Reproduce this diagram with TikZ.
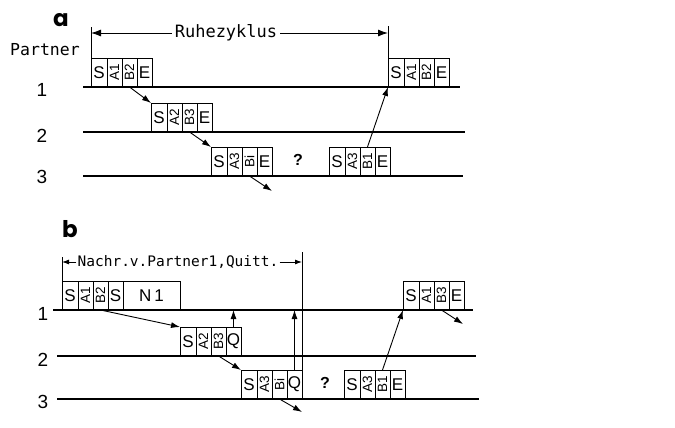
\documentclass[tikz,border=0pt]{standalone}
\usepackage{fontspec}
\setsansfont{Liberation Sans}
\setmonofont{DejaVu Sans Mono}
\newfontfamily\panelfont{Poppins}
\usetikzlibrary{arrows.meta,positioning}

% rotated address label inside a frame cell
\newcommand{\rot}[1]{\rotatebox{90}{\fontsize{13.5}{13.5}\selectfont #1}}

\begin{document}
\begin{tikzpicture}[
    x=1pt, y=-1pt,
    cell/.style={draw, line width=0.9pt, minimum width=15pt, minimum height=29pt, inner sep=0pt, outer sep=0pt, anchor=south west, font=\sffamily\fontsize{17}{17}\selectfont},
    scell/.style={cell, minimum width=16pt},
    tline/.style={line width=1.3pt},
    tick/.style={line width=0.9pt},
    conn/.style={-{Latex[length=9pt,width=6pt]}, line width=0.9pt},
    dimbig/.style={-{Latex[length=10pt,width=7pt]}, line width=0.9pt},
    dimsmall/.style={-{Latex[length=7pt,width=5pt]}, line width=0.9pt},
    rowlab/.style={font=\sffamily\fontsize{19}{19}\selectfont},
    monolab/.style={font=\ttfamily\fontsize{17}{17}\selectfont, inner sep=3pt},
    qmark/.style={font=\sffamily\bfseries\fontsize{16}{16}\selectfont},
    panel/.style={font=\panelfont\bfseries\fontsize{23}{23}\selectfont},
]
    \useasboundingbox (0,0) rectangle (675,428);

    % ---------- a ----------
    \node[panel] (pa) at (61,20) {a};
    \node[monolab, font=\ttfamily\fontsize{16.5}{16.5}\selectfont] (partner) at (45,50) {Partner};
    \node[rowlab] (ra1) at (42,90) {1};
    \node[rowlab] (ra2) at (42,136) {2};
    \node[rowlab] (ra3) at (42,177) {3};
    \draw[tline] (83,87) -- (460,87);
    \draw[tline] (83,132) -- (465,132);
    \draw[tline] (83,176) -- (463,176);

    % partner 1
    \node[scell] (a1S) at (91,87) {S};
    \node[cell, right=0pt of a1S] (a1A) {\rot{A1}};
    \node[cell, right=0pt of a1A] (a1B) {\rot{B2}};
    \node[cell, right=0pt of a1B] (a1E) {E};
    % partner 2
    \node[scell] (a2S) at (151,132) {S};
    \node[cell, right=0pt of a2S] (a2A) {\rot{A2}};
    \node[cell, right=0pt of a2A] (a2B) {\rot{B3}};
    \node[cell, right=0pt of a2B] (a2E) {E};
    % partner 3
    \node[scell] (a3S) at (211,176) {S};
    \node[cell, right=0pt of a3S] (a3A) {\rot{A3}};
    \node[cell, right=0pt of a3A] (a3B) {\rot{Bi}};
    \node[cell, right=0pt of a3B] (a3E) {E};
    \node[qmark] (qa) at (298,160) {?};
    \node[scell] (a3rS) at (329,176) {S};
    \node[cell, right=0pt of a3rS] (a3rA) {\rot{A3}};
    \node[cell, right=0pt of a3rA] (a3rB) {\rot{B1}};
    \node[cell, right=0pt of a3rB] (a3rE) {E};
    % partner 1 again
    \node[scell] (a1rS) at (388,87) {S};
    \node[cell, right=0pt of a1rS] (a1rA) {\rot{A1}};
    \node[cell, right=0pt of a1rA] (a1rB) {\rot{B2}};
    \node[cell, right=0pt of a1rB] (a1rE) {E};

    % rest cycle
    \node[monolab] (ruhe) at (226,33) {Ruhezyklus};
    \coordinate (ruheL) at (91,33);
    \coordinate (ruheR) at (388,33);
    \draw[tick] (a1S.north west) -- ++(0,-31);
    \draw[tick] (a1rS.north west) -- ++(0,-32);
    \draw[dimbig] (ruhe.west) -- (ruheL);
    \draw[dimbig] (ruhe.east) -- (ruheR);

    \coordinate (a3out) at (272,191);
    \draw[conn] (a1B.south) -- (a2S.north west);
    \draw[conn] (a2B.south) -- (a3S.north west);
    \draw[conn] (a3B.south) -- (a3out);
    \draw[conn] (a3rB.north) -- (a1rS.south west);

    % ---------- b ----------
    \node[panel] (pb) at (70,229) {b};
    \node[rowlab] (rb1) at (43,314) {1};
    \node[rowlab] (rb2) at (43,360) {2};
    \node[rowlab] (rb3) at (43,402) {3};
    \draw[tline] (53,310) -- (473,310);
    \draw[tline] (57,356) -- (476,356);
    \draw[tline] (57,399) -- (479,399);

    % partner 1 with message
    \node[scell] (b1S) at (62,310) {S};
    \node[cell, right=0pt of b1S] (b1A) {\rot{A1}};
    \node[cell, right=0pt of b1A] (b1B) {\rot{B2}};
    \node[cell, right=0pt of b1B] (b1S2) {S};
    \node[cell, right=0pt of b1S2, minimum width=57pt] (b1N) {N\,1};
    % partner 2
    \node[scell] (b2S) at (180,356) {S};
    \node[cell, right=0pt of b2S] (b2A) {\rot{A2}};
    \node[cell, right=0pt of b2A] (b2B) {\rot{B3}};
    \node[cell, right=0pt of b2B] (b2Q) {Q};
    % partner 3
    \node[scell] (b3S) at (241,399) {S};
    \node[cell, right=0pt of b3S] (b3A) {\rot{A3}};
    \node[cell, right=0pt of b3A] (b3B) {\rot{Bi}};
    \node[cell, right=0pt of b3B] (b3Q) {Q};
    \node[qmark] (qb) at (325,383) {?};
    \node[scell] (b3rS) at (344,399) {S};
    \node[cell, right=0pt of b3rS] (b3rA) {\rot{A3}};
    \node[cell, right=0pt of b3rA] (b3rB) {\rot{B1}};
    \node[cell, right=0pt of b3rB] (b3rE) {E};
    % partner 1 again
    \node[scell] (b1rS) at (403,310) {S};
    \node[cell, right=0pt of b1rS] (b1rA) {\rot{A1}};
    \node[cell, right=0pt of b1rA] (b1rB) {\rot{B3}};
    \node[cell, right=0pt of b1rB] (b1rE) {E};

    % message + acknowledge span
    \node[monolab, font=\ttfamily\fontsize{14.5}{14.5}\selectfont, inner sep=1pt] (nachr) at (178,262) {Nachr.v.Partner1,Quitt.};
    \coordinate (nachrL) at (62,262);
    \coordinate (nachrR) at (302,262);
    \draw[tick] (b1S.north west) -- ++(0,-24);
    \draw[tick] (b3Q.north east) -- ++(0,-118);
    \draw[dimsmall] (nachr.west) -- (nachrL);
    \draw[dimsmall] (nachr.east) -- (nachrR);

    \coordinate (b3out) at (302,412);
    \coordinate (b1rout) at (463,324);
    \draw[conn] (b1B.south) -- (b2S.north west);
    \draw[conn] (b2Q.north) -- (b2Q.north |- b1S.south);
    \draw[conn] (b2B.south) -- (b3S.north west);
    \draw[conn] (b3Q.north) -- (b3Q.north |- b1S.south);
    \draw[conn] (b3B.south) -- (b3out);
    \draw[conn] (b3rB.north) -- (b1rS.south west);
    \draw[conn] (b1rB.south) -- (b1rout);
\end{tikzpicture}
\end{document}
